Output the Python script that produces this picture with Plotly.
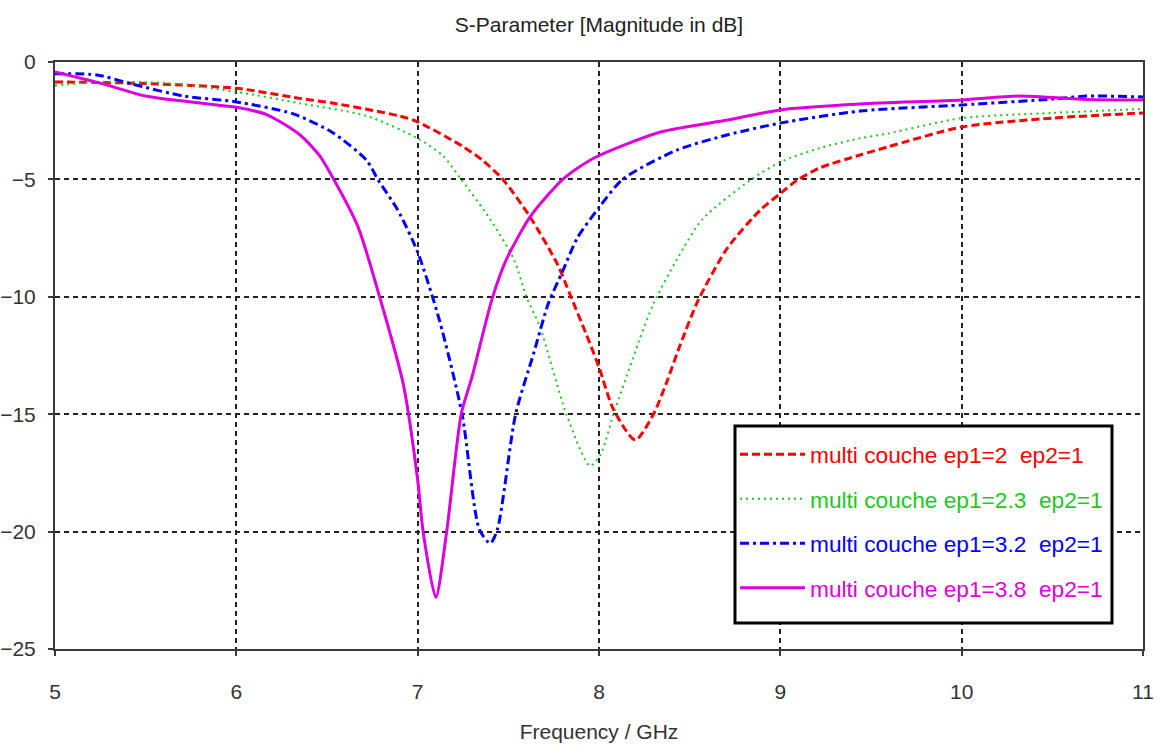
import plotly.graph_objects as go

# S11 magnitude (dB) versus frequency (GHz) for four multilayer substrates
freq_ep2 = [5.0, 5.43, 6.0, 6.35, 6.53, 6.9, 7.0, 7.25, 7.36, 7.47, 7.62, 7.77, 7.84,
            7.93, 8.0, 8.08, 8.2, 8.3, 8.37, 8.45, 8.55, 8.71, 8.89, 9.0, 9.09, 9.22,
            9.44, 9.59, 10.0, 10.5, 11.0]
s11_ep2 = [-0.85, -0.9, -1.12, -1.55, -1.75, -2.3, -2.55, -3.6, -4.2, -5.0, -6.6, -8.6,
           -9.9, -11.6, -13.0, -14.8, -16.1, -15.0, -13.7, -12.0, -10.1, -7.9, -6.3,
           -5.6, -5.05, -4.5, -3.96, -3.62, -2.77, -2.39, -2.17]

freq_ep23 = [5.0, 5.25, 5.62, 6.0, 6.35, 6.72, 7.0, 7.14, 7.24, 7.4, 7.53, 7.6, 7.675,
             7.82, 7.95, 8.01, 8.08, 8.22, 8.3, 8.43, 8.57, 8.84, 9.0, 9.22, 9.44, 9.59,
             10.0, 10.5, 11.0]
s11_ep23 = [-1.0, -0.85, -0.9, -1.27, -1.76, -2.3, -3.25, -4.0, -5.0, -6.7, -8.4, -10.0,
            -11.3, -15.0, -17.2, -16.7, -15.0, -11.9, -10.3, -8.4, -6.7, -5.0, -4.26,
            -3.66, -3.25, -3.05, -2.39, -2.17, -2.0]

freq_ep32 = [5.0, 5.23, 5.43, 5.71, 6.0, 6.31, 6.53, 6.72, 6.78, 6.89, 7.0, 7.12, 7.245,
             7.34, 7.4, 7.44, 7.54, 7.64, 7.72, 7.8, 7.88, 8.0, 8.13, 8.43, 8.71, 9.0,
             9.44, 10.0, 10.5, 10.69, 11.0]
s11_ep32 = [-0.5, -0.55, -0.95, -1.45, -1.7, -2.2, -3.0, -4.2, -5.0, -6.3, -8.1, -11.0,
            -15.0, -19.9, -20.5, -19.9, -15.0, -12.4, -10.3, -8.9, -7.5, -6.2, -5.0,
            -3.75, -3.1, -2.6, -2.09, -1.83, -1.58, -1.45, -1.49]

freq_ep38 = [5.0, 5.25, 5.5, 5.8, 6.0, 6.17, 6.35, 6.46, 6.53, 6.67, 6.79, 6.92, 7.0,
             7.03, 7.1, 7.16, 7.24, 7.3, 7.41, 7.49, 7.62, 7.8, 7.97, 8.34, 8.71,
             9.0, 9.44, 10.0, 10.32, 10.69, 11.0]
s11_ep38 = [-0.42, -0.9, -1.45, -1.75, -1.93, -2.25, -3.1, -4.0, -4.9, -7.0, -10.0,
            -13.7, -17.8, -20.0, -22.8, -20.0, -15.0, -13.4, -10.1, -8.4, -6.6,
            -5.0, -4.1, -2.98, -2.47, -2.04, -1.79, -1.62, -1.45, -1.6, -1.62]

series_names = ["multi couche ep1=2\u00a0 ep2=1",
                "multi couche ep1=2.3\u00a0 ep2=1",
                "multi couche ep1=3.2\u00a0 ep2=1",
                "multi couche ep1=3.8\u00a0 ep2=1"]
series_colors = ["#ff0000", "#1ec81e", "#0000ff", "#dd00dd"]
series_dash = ["8px,4px", "2px,4px", "9px,4px,3px,4px", "solid"]
series_width = [3, 2, 3, 3]

x_ticks = [5, 6, 7, 8, 9, 10, 11]
y_ticks = [0, -5, -10, -15, -20, -25]

curves = [(freq_ep2, s11_ep2), (freq_ep23, s11_ep23),
          (freq_ep32, s11_ep32), (freq_ep38, s11_ep38)]

FONT = "Liberation Sans"

fig = go.Figure()
for i, (fx, fy) in enumerate(curves):
    fig.add_trace(go.Scatter(
        x=fx, y=fy, mode="lines",
        name=f'<span style="color:{series_colors[i]}">{series_names[i]}</span>',
        legendgroup=f"g{i}",
        line=dict(color=series_colors[i], width=series_width[i],
                  dash=series_dash[i], shape="spline", smoothing=0.7),
    ))

axis_common = dict(
    showline=True, linecolor="#3a3a3a", linewidth=2, mirror=True,
    showgrid=True, gridcolor="#222222", gridwidth=1.5, griddash="5px,4px",
    ticks="outside", ticklen=5, tickcolor="#3a3a3a", tickwidth=1.5,
    zeroline=False, automargin=False,
    tickfont=dict(family=FONT, size=21, color="#333333"),
)

fig.update_xaxes(range=[5, 11], tickvals=x_ticks, ticklabelstandoff=18,
                 title=dict(text="Frequency / GHz", standoff=22,
                            font=dict(family=FONT, size=21, color="#333333")),
                 **axis_common)
fig.update_yaxes(range=[-25, 0], tickvals=y_ticks, ticklabelstandoff=8, **axis_common)

# Opaque framed box behind the legend entries
fig.add_shape(type="rect", xref="paper", yref="paper",
              x0=0.625, x1=0.9715, y0=0.0443, y1=0.3799,
              line=dict(color="#000000", width=3), fillcolor="white", layer="above")

fig.update_layout(
    width=1160, height=749,
    margin=dict(l=55, r=17, t=62, b=100),
    paper_bgcolor="white", plot_bgcolor="white",
    title=dict(text="S-Parameter [Magnitude in dB]", x=(55 + 1143) / 2 / 1160,
               xanchor="center", y=1 - 25 / 749, yanchor="middle",
               font=dict(family=FONT, size=21, color="#222222")),
    legend=dict(x=0.625, xanchor="left", y=0.368, yanchor="top",
                bgcolor="rgba(0,0,0,0)", borderwidth=0,
                tracegroupgap=12, itemwidth=65,
                font=dict(family=FONT, size=22.7)),
    showlegend=True,
)

fig.write_html("out.html")
